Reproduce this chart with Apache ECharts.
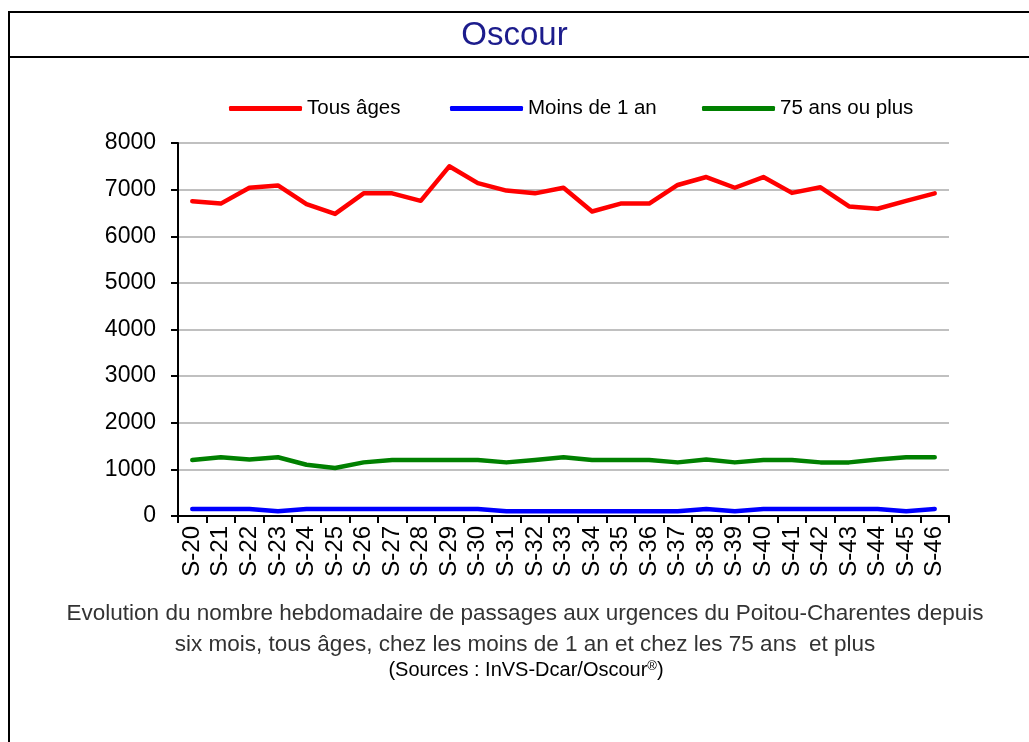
<!DOCTYPE html>
<html lang="fr">
<head>
    <meta charset="UTF-8">
    <title>Oscour</title>
    <script src="https://cdn.jsdelivr.net/npm/echarts@6/dist/echarts.min.js"></script>
    <style>
        html, body { margin: 0; padding: 0; background: #fff; }
    </style>
</head>
<body>
    <div id="main" style="width: 1029px; height: 742px"></div>
    <script>
        // semaines
        var weeks = ['S-20', 'S-21', 'S-22', 'S-23', 'S-24', 'S-25', 'S-26', 'S-27', 'S-28', 'S-29',
            'S-30', 'S-31', 'S-32', 'S-33', 'S-34', 'S-35', 'S-36', 'S-37', 'S-38', 'S-39',
            'S-40', 'S-41', 'S-42', 'S-43', 'S-44', 'S-45', 'S-46'];
        // passages par semaine
        var tousAges = [6750, 6700, 7040, 7090, 6690, 6480, 6920, 6920, 6760, 7500,
            7140, 6980, 6920, 7040, 6530, 6700, 6700, 7100, 7270, 7040,
            7270, 6930, 7050, 6640, 6590, 6760, 6920];
        var moins1an = [150, 150, 150, 100, 150, 150, 150, 150, 150, 150,
            150, 100, 100, 100, 100, 100, 100, 100, 150, 100,
            150, 150, 150, 150, 150, 100, 150];
        var plus75 = [1200, 1260, 1210, 1260, 1100, 1030, 1150, 1200, 1200, 1200,
            1200, 1150, 1200, 1260, 1200, 1200, 1200, 1150, 1210, 1150,
            1200, 1200, 1150, 1150, 1210, 1260, 1260];
        var yTicks = [0, 8000, 1000];

        var arial = 'Arial, "Liberation Sans", sans-serif';
        var narrow = '"Liberation Sans Narrow", "Arial Narrow", "Liberation Sans", sans-serif';

        // une legende par serie, pour placer chaque entree comme sur l'original
        function legendAt(name, x) {
            return {
                left: x,
                top: 93,
                itemWidth: 73,
                itemHeight: 5,
                icon: 'roundRect',
                textStyle: { fontFamily: arial, fontSize: 20.5, color: '#000' },
                data: [name]
            };
        }

        echarts.init(document.getElementById('main')).setOption({
            animation: false,
            backgroundColor: '#fff',
            title: {
                text: 'Oscour',
                left: 'center',
                top: 14,
                textStyle: { color: '#1c1c8c', fontFamily: narrow, fontWeight: 'normal', fontSize: 33 }
            },
            legend: [
                legendAt('Tous âges', 224),
                legendAt('Moins de 1 an', 445),
                legendAt('75 ans ou plus', 697)
            ],
            grid: { left: 178, right: 80, top: 143, bottom: 226 },
            xAxis: {
                type: 'category',
                data: weeks,
                boundaryGap: true,
                axisLine: { lineStyle: { color: '#000', width: 2 } },
                axisTick: { show: true, length: 7, lineStyle: { color: '#000', width: 2 } },
                axisLabel: {
                    rotate: 90,
                    margin: 10,
                    interval: 0,
                    fontFamily: arial,
                    fontSize: 24,
                    color: '#000'
                }
            },
            yAxis: {
                type: 'value',
                min: yTicks[0],
                max: yTicks[1],
                interval: yTicks[2],
                axisLine: { show: true, lineStyle: { color: '#000', width: 2 } },
                axisTick: { show: true, inside: false, length: 7, lineStyle: { color: '#000', width: 2 } },
                splitLine: { lineStyle: { color: '#c0c0c0', width: 2 } },
                axisLabel: {
                    margin: 22,
                    formatter: function (v) { return String(v); },
                    fontFamily: arial,
                    fontSize: 23,
                    color: '#000'
                }
            },
            series: [
                {
                    name: 'Tous âges', type: 'line', data: tousAges,
                    showSymbol: false, itemStyle: { color: '#ff0000' },
                    lineStyle: { color: '#ff0000', width: 4.5, cap: 'round', join: 'round' }
                },
                {
                    name: 'Moins de 1 an', type: 'line', data: moins1an,
                    showSymbol: false, itemStyle: { color: '#0000ff' },
                    lineStyle: { color: '#0000ff', width: 4.5, cap: 'round', join: 'round' }
                },
                {
                    name: '75 ans ou plus', type: 'line', data: plus75,
                    showSymbol: false, itemStyle: { color: '#008000' },
                    lineStyle: { color: '#008000', width: 4.5, cap: 'round', join: 'round' }
                }
            ],
            graphic: [
                // cadre
                { type: 'line', shape: { x1: 8, y1: 12, x2: 1029, y2: 12 }, style: { stroke: '#000', lineWidth: 2 } },
                { type: 'line', shape: { x1: 8, y1: 57, x2: 1029, y2: 57 }, style: { stroke: '#000', lineWidth: 2 } },
                { type: 'line', shape: { x1: 9, y1: 12, x2: 9, y2: 742 }, style: { stroke: '#000', lineWidth: 2 } },
                // legende du graphique
                {
                    type: 'text',
                    style: {
                        x: 525, y: 598,
                        text: 'Evolution du nombre hebdomadaire de passages aux urgences du Poitou-Charentes depuis\nsix mois, tous âges, chez les moins de 1 an et chez les 75 ans  et plus',
                        font: '22.5px ' + narrow,
                        fill: '#333',
                        align: 'center',
                        lineHeight: 31
                    }
                },
                {
                    type: 'text',
                    style: {
                        x: 526, y: 660,
                        align: 'center',
                        text: '(Sources : InVS-Dcar/Oscour{sup|®})',
                        font: '20px ' + narrow,
                        fill: '#000',
                        rich: { sup: { fontSize: 13, verticalAlign: 'top', padding: [0, 0, 8, 0], fontFamily: narrow } }
                    }
                }
            ]
        });
    </script>
</body>
</html>
